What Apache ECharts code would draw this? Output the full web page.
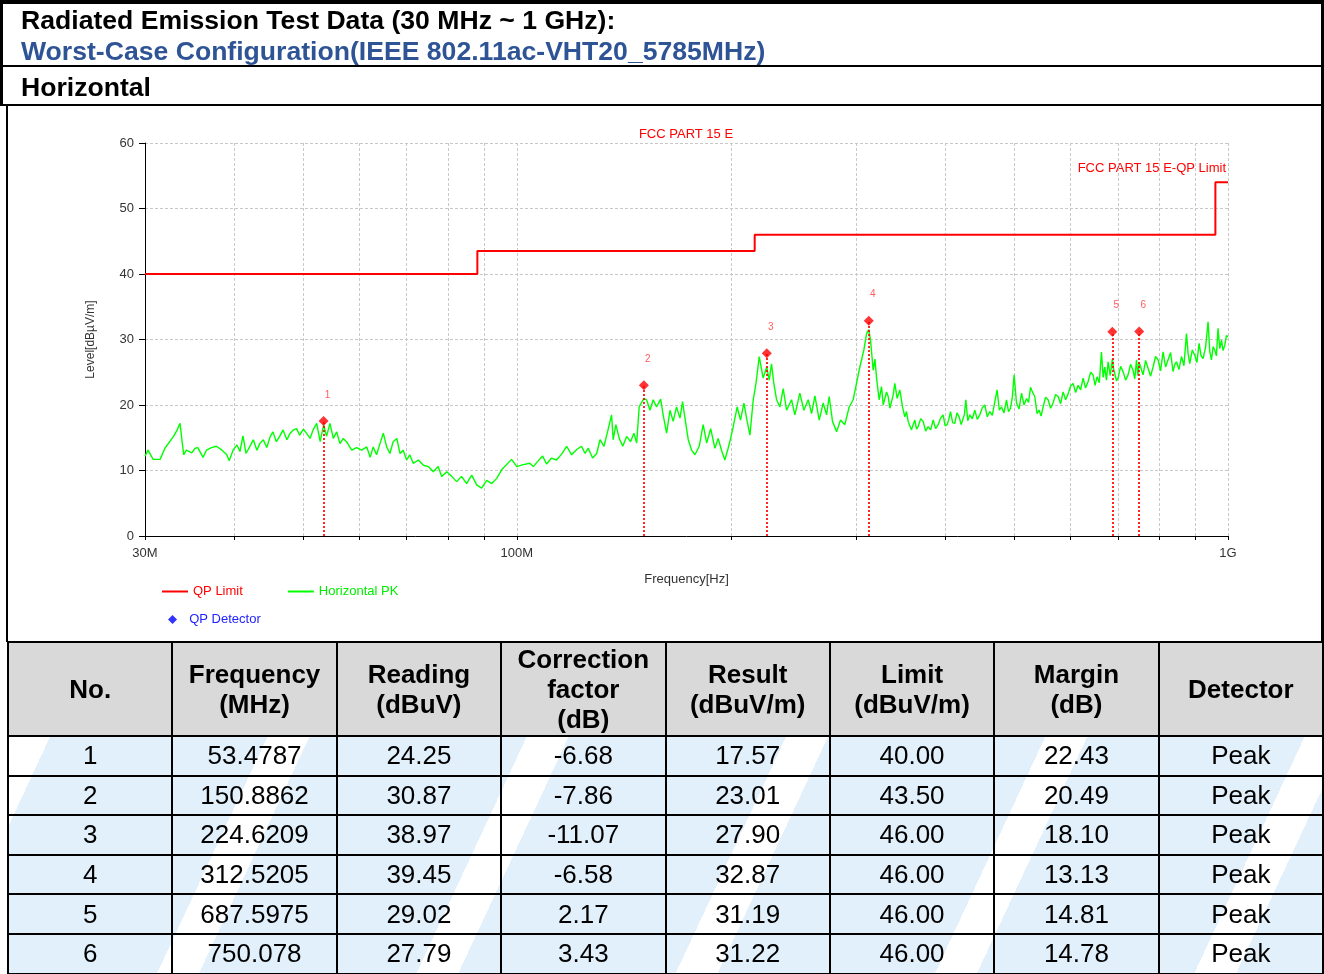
<!DOCTYPE html>
<html>
<head>
<meta charset="utf-8">
<script src="https://cdn.jsdelivr.net/npm/echarts@6/dist/echarts.min.js"></script>
<style>
html,body{margin:0;padding:0;background:#fff;}
body{width:1324px;height:974px;position:relative;overflow:hidden;font-family:"Liberation Sans",Arial,sans-serif;}
#chart{position:absolute;left:0;top:0;width:1324px;height:974px;z-index:1;}
.bar{position:absolute;background:#000;z-index:3;}
.t{position:absolute;left:21px;font-weight:bold;font-size:26.6px;line-height:30px;white-space:nowrap;z-index:3;}
#wm{position:absolute;left:8px;top:737px;width:1315px;height:237px;z-index:2;
  background:repeating-linear-gradient(115deg,#ffffff 0px,#ffffff 38px,#e1f0fb 38px,#e1f0fb 235px);}
#tbl{position:absolute;left:7px;top:641px;width:1317px;border-collapse:collapse;table-layout:fixed;z-index:3;}
#tbl th,#tbl td{border:2px solid #000;text-align:center;padding:0;font-size:26px;color:#000;}
#tbl th{background:#d9d9d9;height:92px;line-height:30px;font-weight:bold;}
#tbl td{height:37.6px;line-height:37px;background:transparent;}
</style>
</head>
<body>
<div class="bar" style="left:0;top:0;width:1324px;height:4px;"></div>
<div class="bar" style="left:0;top:0;width:3px;height:106px;"></div>
<div class="bar" style="left:1321px;top:0;width:3px;height:642px;"></div>
<div class="bar" style="left:0;top:65px;width:1324px;height:2px;"></div>
<div class="bar" style="left:0;top:104px;width:1324px;height:2px;"></div>
<div class="bar" style="left:6px;top:104px;width:2px;height:538px;"></div>
<div class="t" id="h1" style="top:5px;color:#000;"></div>
<div class="t" id="h2" style="top:36px;color:#2f5496;"></div>
<div class="t" id="h3" style="top:72px;color:#000;"></div>
<div id="chart"></div>
<div id="wm"></div>
<table id="tbl"><thead><tr id="thead"></tr></thead><tbody id="tbody"></tbody></table>
<script>
// ---------- text ----------
const headerLine1 = 'Radiated Emission Test Data (30 MHz ~ 1 GHz):';
const headerLine2 = 'Worst-Case Configuration(IEEE 802.11ac-VHT20_5785MHz)';
const headerLine3 = 'Horizontal';

// ---------- limit line (FCC PART 15 E-QP Limit) ----------
const limitFreq  = [30, 88, 88, 216, 216, 960, 960, 1000];
const limitLevel = [40, 40, 43.5, 43.5, 46, 46, 54, 54];

// ---------- measured peaks ----------
const peakNo      = [1, 2, 3, 4, 5, 6];
const peakFreq    = [53.4787, 150.8862, 224.6209, 312.5205, 687.5975, 750.078];
const peakReading = ['24.25', '30.87', '38.97', '39.45', '29.02', '27.79'];
const peakCorr    = ['-6.68', '-7.86', '-11.07', '-6.58', '2.17', '3.43'];
const peakResult  = [17.57, 23.01, 27.90, 32.87, 31.19, 31.22];
const peakLimit   = ['40.00', '43.50', '46.00', '46.00', '46.00', '46.00'];
const peakMargin  = ['22.43', '20.49', '18.10', '13.13', '14.81', '14.78'];
const peakDet     = ['Peak', 'Peak', 'Peak', 'Peak', 'Peak', 'Peak'];
const peakFreqText = ['53.4787', '150.8862', '224.6209', '312.5205', '687.5975', '750.078'];
const peakResultText = ['17.57', '23.01', '27.90', '32.87', '31.19', '31.22'];
const tableHeaders = ['No.', 'Frequency<br>(MHz)', 'Reading<br>(dBuV)', 'Correction<br>factor<br>(dB)',
                      'Result<br>(dBuV/m)', 'Limit<br>(dBuV/m)', 'Margin<br>(dB)', 'Detector'];

// ---------- Horizontal PK trace ----------
const pkFreq = [
 30.0,30.3,30.8,31.5,32.0,32.9,33.3,33.6,34.0,34.3,34.9,35.3,35.6,36.2,36.6,37.2,37.8,38.5,39.1,39.4,
 39.9,40.4,40.8,41.2,41.6,42.1,42.6,43.1,43.5,44.0,44.5,45.0,45.4,45.9,46.4,46.9,47.5,48.0,48.5,49.0,
 49.5,50.1,50.6,51.2,51.7,52.3,52.9,53.5,54.0,54.6,55.2,55.8,56.4,57.0,57.6,58.6,59.5,60.5,61.5,62.2,
 62.8,63.5,64.2,64.9,65.6,66.3,67.0,67.8,68.5,69.2,70.0,70.7,71.5,72.7,73.9,75.1,76.3,77.5,78.4,79.7,
 81.0,82.3,83.6,85.0,86.4,87.8,89.2,90.7,92.2,93.7,95.2,
 98.3,100.0,102.1,104.3,105.5,106.6,108.7,110.1,111.9,113.7,115.6,117.5,119.4,121.4,123.3,124.7,126.0,127.8,129.5,
 130.9,132.6,134.0,135.9,136.6,137.8,139.3,140.9,142.7,144.5,146.1,147.4,148.6,150.9,152.2,153.9,155.5,157.2,159.3,
 160.6,162.4,164.2,165.9,167.7,169.6,171.0,172.9,174.2,176.1,178.0,180.5,182.8,184.9,187.3,189.9,191.9,194.0,196.1,
 198.2,199.8,201.5,204.1,206.3,208.6,210.8,212.7,215.0,216.9,219.2,222.0,224.6,226.4,228.1,229.8,231.9,234.4,236.9,
 239.5,243.4,246.0,250.0,253.3,256.9,259.7,262.5,266.2,269.6,272.6,274.9,277.9,281.6,285.2,289.2,293.3,297.1,299.7,
 303.6,307.6,310.3,312.5,
 314.3,317.0,318.8,320.5,323.2,325.7,327.5,329.2,331.0,332.8,334.6,336.4,338.2,340.0,342.6,345.6,348.6,351.2,353.1,
 355.0,357.0,358.9,360.8,362.8,364.8,366.7,369.7,372.7,375.7,378.7,381.8,384.9,388.0,391.2,394.4,397.6,400.2,402.8,
 405.0,407.2,410.0,412.9,415.8,418.7,421.5,424.2,426.0,427.9,430.6,433.4,437.0,440.5,444.1,447.7,451.4,455.0,458.7,
 462.5,466.2,470.0,473.5,477.0,480.3,484.2,488.1,491.3,494.5,497.4,500.3,504.2,508.4,512.5,516.6,520.8,524.2,527.6,
 531.3,535.0,538.8,542.5,546.0,549.6,554.0,558.5,563.0,567.6,572.2,576.9,581.6,586.3,591.1,595.9,600.7,605.6,610.5,
 615.5,620.5,625.5,630.6,635.8,641.0,646.1,650.3,654.5,659.2,663.9,667.5,671.0,674.6,678.3,683.0,687.6,690.3,693.1,
 696.8,700.6,706.3,712.0,717.8,723.6,729.5,735.4,739.5,743.6,746.8,750.1,754.8,759.6,765.8,772.0,778.3,784.6,791.0,
 797.4,803.9,810.4,817.0,823.7,830.4,837.1,841.7,846.3,853.2,860.1,867.1,874.2,878.9,883.6,890.8,898.0,904.3,910.6,
 916.5,922.4,930.0,937.5,942.7,947.9,953.0,958.1,963.2,968.3,973.7,979.1,984.3,989.6,994.8,1000
];
const pkLevel = [
 12.2,13.1,11.7,11.7,13.4,15.2,16.2,17.2,12.4,13.1,12.7,13.4,13.5,12.0,13.1,13.5,13.7,13.1,12.4,11.5,
 13.1,13.9,12.9,15.3,12.6,13.6,14.7,13.1,14.1,14.7,13.5,15.2,15.9,14.4,15.2,16.2,14.7,15.7,16.2,16.4,
 15.4,16.3,15.7,14.9,16.2,17.2,14.4,17.0,15.2,17.2,14.9,15.9,14.1,14.9,14.4,13.1,13.5,13.1,13.6,12.0,
 13.6,12.4,14.1,15.7,13.6,12.6,14.4,14.9,12.6,13.1,11.6,12.4,11.1,11.6,10.8,10.6,9.8,10.6,9.1,9.8,
 9.1,8.3,9.1,8.0,9.3,7.8,7.3,8.5,8.0,8.8,10.1,
 11.7,10.6,10.9,11.1,10.6,11.2,12.2,11.0,11.9,11.6,12.5,13.7,12.4,13.2,13.7,12.6,13.4,11.9,12.6,
 14.7,13.7,15.7,18.5,14.7,17.0,14.9,13.7,15.2,14.4,15.7,14.2,19.7,21.0,20.8,19.2,20.8,19.7,20.9,
 18.5,15.7,19.2,17.5,19.7,18.0,20.5,17.0,14.7,13.1,12.4,13.7,17.0,14.2,16.4,13.4,14.9,13.1,11.6,
 13.4,14.9,16.7,19.7,17.7,20.3,17.5,15.4,20.8,23.3,27.4,24.1,25.8,23.8,26.3,23.3,20.8,19.7,22.5,
 19.2,20.8,18.5,21.8,19.2,20.8,18.7,21.4,17.7,20.3,18.5,21.3,17.5,15.9,17.7,17.0,19.7,20.8,22.8,
 25.8,28.4,30.9,31.5,
 29.9,25.3,27.0,24.1,20.8,22.8,20.0,20.3,22.0,21.3,19.5,19.7,21.5,23.3,21.0,22.3,19.7,18.2,19.0,
 17.5,16.8,16.2,17.0,17.7,16.3,16.7,17.9,17.5,16.0,16.7,16.2,17.7,16.4,17.0,18.0,18.5,16.8,17.0,
 17.8,19.0,17.3,17.2,18.8,18.2,17.0,16.7,18.6,20.8,17.6,18.5,17.9,19.2,17.8,18.5,19.6,20.0,18.2,
 19.0,18.4,20.5,22.3,19.2,19.7,18.8,20.8,19.0,19.5,21.2,24.6,20.3,19.4,21.8,20.0,21.0,20.4,22.7,
 21.9,21.3,18.7,19.2,18.3,19.7,21.2,20.8,19.5,20.3,21.6,21.3,20.2,22.0,20.8,21.7,22.9,23.3,21.9,
 23.0,22.3,24.1,22.6,23.6,25.0,24.6,23.0,24.3,23.4,28.1,24.2,25.8,23.8,26.6,24.5,27.0,25.6,25.8,
 23.7,24.1,25.9,25.1,23.8,24.6,26.2,25.3,24.0,26.9,24.5,26.5,26.4,24.6,26.8,25.6,24.4,25.8,27.4,
 26.9,25.2,28.1,25.8,26.9,28.0,25.1,26.2,26.6,25.4,27.4,26.0,30.9,27.8,26.3,28.4,27.6,26.5,29.4,
 27.5,27.1,28.8,32.7,28.2,26.9,28.9,28.4,27.5,31.7,28.6,29.9,28.3,29.1,30.6,30.4
];

// ---------- axis tick values ----------
const xTickValues  = [30, 40, 50, 60, 70, 80, 90, 100, 200, 300, 400, 500, 600, 700, 800, 900, 1000];
const xLabelValues = [30, 100, 1000];
const xLabelTexts  = ['30M', '100M', '1G'];

// ---------- header / table ----------
document.getElementById('h1').textContent = headerLine1;
document.getElementById('h2').textContent = headerLine2;
document.getElementById('h3').textContent = headerLine3;
document.getElementById('thead').innerHTML = tableHeaders.map(h => '<th>' + h + '</th>').join('');
document.getElementById('tbody').innerHTML = peakNo.map((n, i) =>
  '<tr><td>' + n + '</td><td>' + peakFreqText[i] + '</td><td>' + peakReading[i] + '</td><td>' + peakCorr[i] +
  '</td><td>' + peakResultText[i] + '</td><td>' + peakLimit[i] + '</td><td>' + peakMargin[i] + '</td><td>' + peakDet[i] + '</td></tr>'
).join('');

// ---------- chart ----------
const chart = echarts.init(document.getElementById('chart'), null, {renderer: 'canvas'});
const FONT = '"Liberation Sans", Arial, sans-serif';
const gridLine = {color: '#c8c8c8', type: [3, 2], width: 1};
const option = {
  animation: false,
  backgroundColor: 'transparent',
  textStyle: {fontFamily: FONT},
  grid: {left: 145, top: 143, right: 96, bottom: 438, containLabel: false},
  xAxis: {
    type: 'log', logBase: 10, min: 30, max: 1000,
    name: 'Frequency[Hz]', nameLocation: 'middle', nameGap: 37,
    nameTextStyle: {color: '#333', fontSize: 13, fontFamily: FONT},
    axisLine: {show: true, lineStyle: {color: '#000', width: 1}},
    axisTick: {show: true, customValues: xTickValues, length: 4, inside: false, lineStyle: {color: '#000'}},
    axisLabel: {
      customValues: xLabelValues, color: '#333', fontSize: 13, margin: 11, fontFamily: FONT,
      formatter: v => { const k = xLabelValues.findIndex(x => Math.abs(x - v) < 1e-6 * x); return k >= 0 ? xLabelTexts[k] : ''; }
    },
    splitLine: {show: true, lineStyle: gridLine},
    minorTick: {show: false}, minorSplitLine: {show: false}
  },
  yAxis: {
    type: 'value', min: 0, max: 60, interval: 10,
    name: 'Level[dBµV/m]', nameLocation: 'middle', nameGap: 48, nameRotate: 90,
    nameTextStyle: {color: '#333', fontSize: 12, fontFamily: FONT},
    axisLine: {show: true, lineStyle: {color: '#000', width: 1}},
    axisTick: {show: true, length: 6, inside: false, lineStyle: {color: '#000'}},
    axisLabel: {color: '#333', fontSize: 13, margin: 11, fontFamily: FONT},
    splitLine: {show: true, lineStyle: gridLine}
  },
  legend: [
    {
      left: 162, top: 585, padding: 0, icon: 'rect', itemWidth: 26, itemHeight: 2, itemGap: 45, selectedMode: false,
      textStyle: {fontSize: 13, fontFamily: FONT},
      data: [
        {name: 'QP Limit', textStyle: {color: '#ff0000'}},
        {name: 'Horizontal PK', textStyle: {color: '#00ee00'}}
      ]
    },
    {
      left: 168, top: 613, padding: 0, itemWidth: 9, itemHeight: 9, selectedMode: false,
      formatter: '  {name}',
      textStyle: {fontSize: 13, fontFamily: FONT},
      data: [{name: 'QP Detector', icon: 'diamond', itemStyle: {color: '#0000ff'}, textStyle: {color: '#2222ff'}}]
    }
  ],
  graphic: [
    {type: 'text', x: 686, y: 134, silent: true,
     style: {text: 'FCC PART 15 E', fill: '#ff0000', font: '13px ' + FONT, align: 'center', verticalAlign: 'middle'}},
    {type: 'text', x: 1226, y: 168, silent: true,
     style: {text: 'FCC PART 15 E-QP Limit', fill: '#ff0000', font: '13px ' + FONT, align: 'right', verticalAlign: 'middle'}}
  ],
  series: [
    {
      name: 'QP Limit', type: 'line', symbol: 'none', showSymbol: false,
      data: limitFreq.map((f, i) => [f, limitLevel[i]]),
      lineStyle: {color: '#ff0000', width: 2}, itemStyle: {color: '#ff0000'}, z: 3
    },
    {
      name: 'Horizontal PK', type: 'line', symbol: 'none', showSymbol: false,
      data: pkFreq.map((f, i) => [f, pkLevel[i]]),
      lineStyle: {color: '#00ff00', width: 1.4}, itemStyle: {color: '#00ff00'}, z: 2
    },
    {
      name: 'QP Detector', type: 'scatter', symbol: 'diamond', symbolSize: 10,
      data: peakFreq.map((f, i) => ({name: String(peakNo[i]), value: [f, peakResult[i]]})),
      itemStyle: {color: '#ff0000'},
      label: {show: true, formatter: '{b}', position: 'top', offset: [4, -11], color: '#ff3333', fontSize: 10, fontFamily: FONT},
      markLine: {
        silent: true, symbol: ['none', 'none'], animation: false,
        label: {show: false},
        lineStyle: {color: '#ff0000', type: 'dotted', width: 2, opacity: 0.85},
        emphasis: {disabled: true},
        data: peakFreq.map((f, i) => [{coord: [f, 0]}, {coord: [f, peakResult[i]]}])
      },
      z: 4
    }
  ]
};
chart.setOption(option);
</script>
</body>
</html>
